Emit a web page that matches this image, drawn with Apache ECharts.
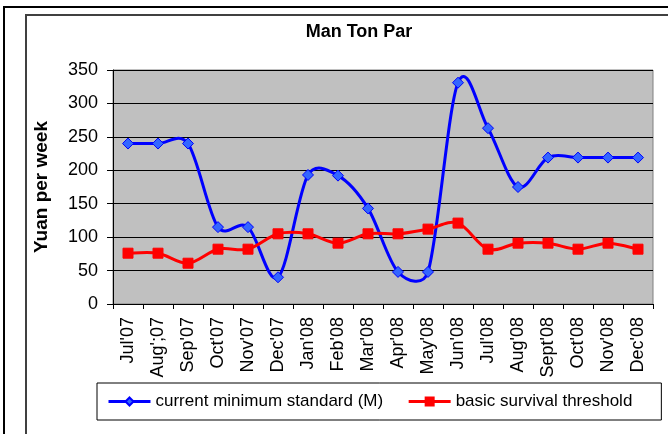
<!DOCTYPE html>
<html><head><meta charset="utf-8">
<script src="https://cdn.jsdelivr.net/npm/echarts@6/dist/echarts.min.js"></script>
<style>html,body{margin:0;padding:0;background:#fff;}#c{width:668px;height:434px;}</style>
</head><body><div id="c"></div>
<script>
const categories = ["Jul'07","Aug';07","Sep'07","Oct'07","Nov'07","Dec'07","Jan'08","Feb'08","Mar'08","Apr'08","May'08","Jun'08","Jul'08","Aug'08","Sept'08","Oct'08","Nov'08","Dec'08"];
const currentMinimum = [240,240,240,115,115,40,193,192,143,48,48,331,263,175,219,219,219,219];
const survivalThreshold = [76,76,61,82,82,105,105,91,105,105,112,121,82,91,91,82,91,82];
const yTicks = [0,50,100,150,200,250,300,350];

const NAME_A = 'current minimum standard (M)';
const NAME_B = 'basic survival threshold';
const font = 'Arial, "Liberation Sans", sans-serif';

// Excel-like smoothing: Bezier segments with tangents (next - prev)/6,
// limited to half of the segment length.
function limitVec(vx, vy, maxLen) {
  const l = Math.hypot(vx, vy);
  if (l > maxLen && l > 0) { const s = maxLen / l; return [vx * s, vy * s]; }
  return [vx, vy];
}
function smoothSegments(pts, color) {
  const children = [];
  for (let i = 0; i < pts.length - 1; i++) {
    const p0 = pts[i - 1] || pts[i], p1 = pts[i], p2 = pts[i + 1], p3 = pts[i + 2] || pts[i + 1];
    const seg = Math.hypot(p2[0] - p1[0], p2[1] - p1[1]);
    const t1 = limitVec((p2[0] - p0[0]) / 6, (p2[1] - p0[1]) / 6, seg * 0.5);
    const t2 = limitVec((p3[0] - p1[0]) / 6, (p3[1] - p1[1]) / 6, seg * 0.5);
    children.push({
      type: 'bezierCurve',
      shape: { x1: p1[0], y1: p1[1], x2: p2[0], y2: p2[1],
        cpx1: p1[0] + t1[0], cpy1: p1[1] + t1[1], cpx2: p2[0] - t2[0], cpy2: p2[1] - t2[1] },
      style: { fill: null, stroke: color, lineWidth: 3, lineCap: 'round', lineJoin: 'round' }
    });
  }
  return children;
}
function curveSeries(values, color) {
  return {
    type: 'custom', name: color + '-curve', data: [[0, values[0]]], encode: { x: 0, y: 1 },
    silent: true, z: 1, clip: false,
    renderItem: function (params, api) {
      const pts = values.map((v, i) => api.coord([i, v]));
      return { type: 'group', children: smoothSegments(pts, color) };
    }
  };
}

const chart = echarts.init(document.getElementById('c'), null, {renderer:'canvas'});
chart.setOption({
  animation:false,
  backgroundColor:'#fff',
  title:{text:'Man Ton Par', left:354, top:18, textAlign:'center',
    textStyle:{fontFamily:font, fontSize:18, fontWeight:'bold', color:'#000'}},
  graphic:[
    {type:'rect', shape:{x:4,y:7,width:680,height:440}, style:{fill:'none', stroke:'#000', lineWidth:2}, silent:true},
    {type:'rect', shape:{x:26,y:15,width:680,height:440}, style:{fill:'none', stroke:'#404040', lineWidth:2}, silent:true}
  ],
  grid:{left:113, top:70, width:540, height:234, backgroundColor:'#C0C0C0', show:true, borderColor:'#808080', borderWidth:1},
  legend:{
    left:97, top:383,
    itemGap:24, itemWidth:42, itemHeight:10,
    padding:[10,29,10,10],
    borderColor:'#000', borderWidth:1, backgroundColor:'#fff',
    textStyle:{fontFamily:font, fontSize:17, color:'#000'},
    data:[
      {name:NAME_A, lineStyle:{color:'#0000FF', width:3, opacity:1}},
      {name:NAME_B, lineStyle:{color:'#FF0000', width:3, opacity:1}}
    ]
  },
  xAxis:{type:'category', data:categories, boundaryGap:true,
    axisLine:{lineStyle:{color:'#000', width:1}},
    axisTick:{show:true, length:5, interval:0, lineStyle:{color:'#000'}},
    axisLabel:{rotate:90, interval:0, fontFamily:font, fontSize:18, color:'#000', margin:13}
  },
  yAxis:{type:'value', min:0, max:350, interval:50,
    name:'Yuan per week', nameLocation:'middle', nameGap:62, nameRotate:90,
    nameTextStyle:{fontFamily:font, fontSize:19, fontWeight:'bold', color:'#000'},
    axisLine:{show:true, lineStyle:{color:'#000'}},
    axisTick:{show:true, length:6, lineStyle:{color:'#000'}},
    axisLabel:{fontFamily:font, fontSize:18, color:'#000', margin:15,
      formatter:v=>yTicks.includes(v)?String(v):''},
    splitLine:{show:true, lineStyle:{color:'#000', width:1}}
  },
  series:[
    curveSeries(currentMinimum, '#0000FF'),
    curveSeries(survivalThreshold, '#FF0000'),
    {name:NAME_A, type:'line', data:currentMinimum, z:3,
      symbol:'diamond', symbolSize:11,
      lineStyle:{color:'#0000FF', width:3, opacity:0},
      itemStyle:{color:'#3366FF', borderColor:'#0000FF', borderWidth:1}},
    {name:NAME_B, type:'line', data:survivalThreshold, z:3,
      symbol:'rect', symbolSize:10,
      lineStyle:{color:'#FF0000', width:3, opacity:0},
      itemStyle:{color:'#FF0000', borderColor:'#FF0000', borderWidth:1}}
  ]
});
</script></body></html>
